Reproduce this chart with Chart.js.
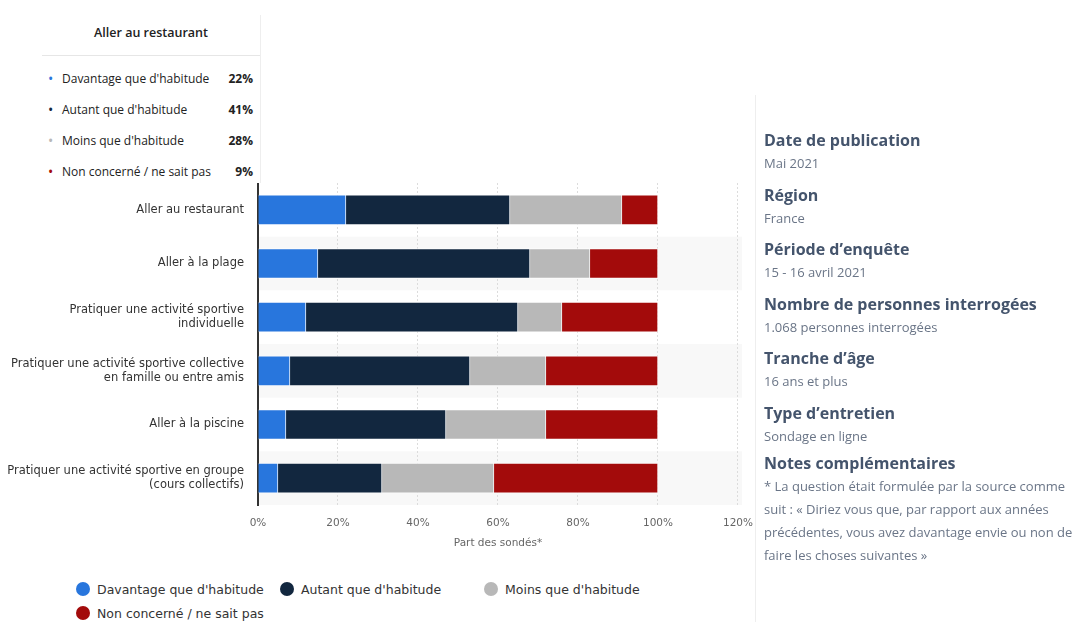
<!DOCTYPE html>
<html>
<head>
<meta charset="utf-8">
<script src="https://cdn.jsdelivr.net/npm/chart.js@4.4.0/dist/chart.umd.min.js"></script>
<style>
  body { margin: 0; background: #fff; width: 1076px; height: 622px; overflow: hidden; position: relative; font-family: "Open Sans", sans-serif; }
  #wrap { position: absolute; left: 0; top: 0; width: 765px; height: 563px; }
  #tip { position: absolute; left: 42px; top: 15px; width: 218px; height: 168px; background: #fff; border-right: 1px solid #eee; font-size: 12px; color: #222; }
  #tip .head { text-align: center; font-weight: 600; font-size: 12.5px; height: 40px; line-height: 36px; border-bottom: 1px solid #e6e6e6; margin-bottom: 8px; }
  #tip .row { height: 31px; line-height: 30px; display: flex; padding: 0 7px 0 6px; }
  #tip .dot { width: 14px; font-size: 14px; }
  #tip .lab { flex: 1; }
  #tip .val { font-weight: bold; }
  #legend { position: absolute; left: 76px; top: 578px; width: 640px; font-family: "DejaVu Sans", sans-serif; font-size: 12.5px; color: #333; }
  #legend .it { display: inline-block; width: 204px; height: 24px; line-height: 24px; }
  #legend .c { display: inline-block; width: 14px; height: 14px; border-radius: 50%; vertical-align: -2px; margin-right: 7px; }
  #side { position: absolute; left: 755px; top: 95px; width: 321px; height: 527px; border-left: 1px solid #eee; }
  #side .in { position: absolute; left: 8px; top: 34px; width: 310px; }
  #side h4 { margin: 0; font-size: 16px; font-weight: bold; color: #44546c; height: 23px; line-height: 23px; }
  #side p { margin: 0 0 8.6px 0; font-size: 13px; color: #6a7587; line-height: 23px; }
</style>
</head>
<body>
<div id="wrap"><canvas id="bar-chart"></canvas></div>
<div id="tip"></div>
<div id="legend"></div>
<div id="side"><div class="in">
  <h4>Date de publication</h4><p>Mai 2021</p>
  <h4>Région</h4><p>France</p>
  <h4>Période d’enquête</h4><p>15 - 16 avril 2021</p>
  <h4>Nombre de personnes interrogées</h4><p>1.068 personnes interrogées</p>
  <h4>Tranche d’âge</h4><p>16 ans et plus</p>
  <h4>Type d’entretien</h4><p style="margin-bottom:4px">Sondage en ligne</p>
  <h4>Notes complémentaires</h4><p>* La question était formulée par la source comme suit : « Diriez vous que, par rapport aux années précédentes, vous avez davantage envie ou non de faire les choses suivantes »</p>
</div></div>
<script>
const categories = [
    "Aller au restaurant",
    "Aller à la plage",
    ["Pratiquer une activité sportive", "individuelle"],
    ["Pratiquer une activité sportive collective", "en famille ou entre amis"],
    "Aller à la piscine",
    ["Pratiquer une activité sportive en groupe", "(cours collectifs)"]
]
const seriesNames = ["Davantage que d'habitude", "Autant que d'habitude", "Moins que d'habitude", "Non concerné / ne sait pas"]
const davantage = [22, 15, 12, 8, 7, 5]
const autant = [41, 53, 53, 45, 40, 26]
const moins = [28, 15, 11, 19, 25, 28]
const nonConcerne = [9, 17, 24, 28, 28, 41]
const xTicks = [0, 20, 40, 60, 80, 100, 120]
const couleurs = ["#2876dd", "#12273f", "#b8b8b8", "#a30b0b"]

const valeurs = [davantage, autant, moins, nonConcerne]

// bandes grises une ligne sur deux
const bandes = {
    id: 'bandes',
    beforeDraw(chart) {
        const { ctx, chartArea, scales: { y } } = chart
        const h = (chartArea.bottom - chartArea.top) / categories.length
        ctx.save()
        ctx.fillStyle = '#f8f8f8'
        categories.forEach((c, i) => {
            if (i % 2 === 1) {
                const yc = y.getPixelForValue(i)
                ctx.fillRect(chartArea.left, yc - h / 2, chartArea.right - chartArea.left + 4, h)
            }
        })
        ctx.restore()
    }
}

new Chart(document.getElementById("bar-chart"), {
    type: 'bar',
    data: {
        labels: categories,
        datasets: seriesNames.map((nom, i) => ({
            label: nom,
            data: valeurs[i],
            backgroundColor: couleurs[i],
            borderColor: 'rgba(255,255,255,0.7)',
            borderWidth: 1,
            barThickness: 30
        }))
    },
    options: {
        indexAxis: 'y',
        responsive: true,
        maintainAspectRatio: false,
        animation: false,
        layout: { padding: { top: 183, right: 26, left: 0, bottom: 0 } },
        plugins: { legend: { display: false }, tooltip: { enabled: false } },
        scales: {
            x: {
                stacked: true,
                min: 0,
                max: 120,
                afterBuildTicks: scale => { scale.ticks = xTicks.map(v => ({ value: v })) },
                afterFit: scale => { scale.height = 58 },
                ticks: {
                    padding: 12,
                    color: '#666',
                    font: { family: 'DejaVu Sans', size: 10.5 },
                    callback: v => v + '%'
                },
                grid: { color: '#dcdcdc', drawTicks: false },
                border: { display: false, dash: [2, 2] },
                title: {
                    display: true,
                    text: 'Part des sondés*',
                    color: '#666',
                    font: { family: 'DejaVu Sans', size: 10.5 },
                    padding: { top: 0, bottom: 13 }
                }
            },
            y: {
                stacked: true,
                afterFit: scale => { scale.width = 258 },
                ticks: {
                    padding: 14,
                    color: '#333',
                    font: { family: 'DejaVu Sans', size: 11.5 }
                },
                grid: { display: false, drawTicks: false },
                border: { display: true, color: '#333', width: 2 }
            }
        }
    },
    plugins: [bandes]
})

// infobulle fixe sur la premiere categorie
const tip = document.getElementById('tip')
let html = '<div class="head">' + categories[0] + '</div>'
seriesNames.forEach((nom, i) => {
    html += '<div class="row"><span class="dot" style="color:' + couleurs[i] + '">•</span><span class="lab">' + nom + '</span><span class="val">' + valeurs[i][0] + '%</span></div>'
})
tip.innerHTML = html

// legende
const legende = document.getElementById('legend')
legende.innerHTML = seriesNames.map((nom, i) =>
    '<span class="it"><span class="c" style="background:' + couleurs[i] + '"></span>' + nom + '</span>').join('')
</script>
</body>
</html>
